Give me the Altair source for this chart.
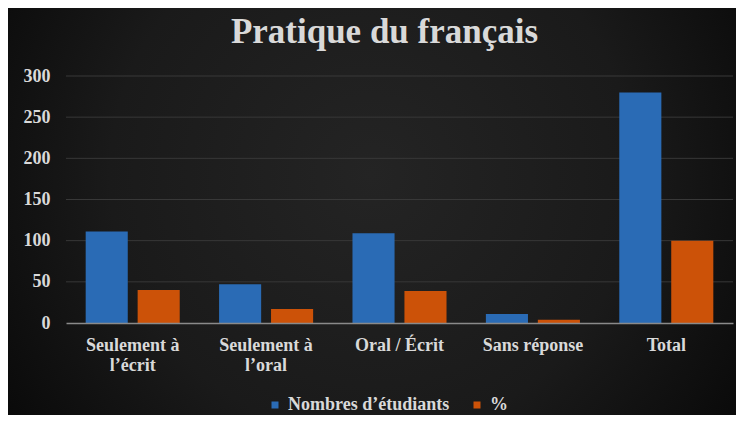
import altair as alt
import pandas as pd

categories = ["Seulement à l’écrit", "Seulement à l’oral", "Oral / Écrit", "Sans réponse", "Total"]
series = ["Nombres d’étudiants", "%"]
students = [111, 47, 109, 11, 280]
percent = [40, 17, 39, 4, 100]
colors = ["#2a6bb5", "#cc5208"]
y_ticks = [0, 50, 100, 150, 200, 250, 300]

rows = []
for c, s, p in zip(categories, students, percent):
    rows.append({"cat": c, "serie": series[0], "val": s})
    rows.append({"cat": c, "serie": series[1], "val": p})
df = pd.DataFrame(rows)
grid_df = pd.DataFrame({"val": [v for v in y_ticks if v > 0]})

W, H = 667, 247
PAD_L, PAD_T, PAD_R, PAD_B = 58, 68, 3, 92
FONT = "Liberation Serif"
TXT = "#d9d9d9"

y_axis = alt.Axis(values=y_ticks, labelFont=FONT, labelFontSize=18,
                  labelFontWeight="bold", labelColor=TXT, labelPadding=16,
                  ticks=False, domain=False, grid=False, zindex=1)
y_scale = alt.Scale(domain=[0, 300], nice=False)

bg = alt.Chart(pd.DataFrame({"a": [0]})).mark_rect(
    color=alt.Gradient(
        gradient="radial",
        stops=[alt.GradientStop(color="#242424", offset=0),
               alt.GradientStop(color="#1a1a1a", offset=0.5),
               alt.GradientStop(color="#020202", offset=1)],
        x1=0.5, y1=0.45, x2=0.5, y2=0.45, r1=0, r2=0.72,
    )
).encode(
    x=alt.value(-PAD_L), x2=alt.value(W + PAD_R),
    y=alt.value(-PAD_T), y2=alt.value(H + PAD_B),
)

grid = alt.Chart(grid_df).mark_rule(color="#383838", strokeWidth=1).encode(
    y=alt.Y("val:Q", title=None, axis=y_axis, scale=y_scale),
    x=alt.value(0), x2=alt.value(W),
)

bars = alt.Chart(df).mark_bar().encode(
    x=alt.X("cat:N", sort=categories, title=None,
            scale=alt.Scale(paddingInner=0.295, paddingOuter=0.1475),
            axis=alt.Axis(
                labelAngle=0, labelFont=FONT, labelFontSize=18, labelFontWeight="bold",
                labelColor=TXT, labelPadding=13, labelLineHeight=20, labelBaseline="top",
                ticks=False, domainColor="#8a8a8a", domainWidth=1.5, grid=False, zindex=1,
                labelExpr="indexof(datum.label, 'Seulement à ') == 0 ? ['Seulement à', substring(datum.label, 12)] : datum.label",
            )),
    xOffset=alt.XOffset("serie:N", sort=series,
                        scale=alt.Scale(paddingInner=0.19, paddingOuter=0)),
    y=alt.Y("val:Q", title=None, scale=y_scale, axis=y_axis),
    color=alt.Color("serie:N", sort=series,
                    scale=alt.Scale(domain=series, range=colors),
                    legend=alt.Legend(
                        title=None, orient="none", direction="horizontal",
                        legendX=200, legendY=320, symbolType="square", symbolSize=49,
                        symbolStrokeWidth=0, labelFont=FONT, labelFontSize=18,
                        labelFontWeight="bold", labelColor=TXT, columnPadding=18,
                        labelOffset=4, labelLimit=0)),
)

chart = alt.layer(bg, grid, bars).properties(
    width=W, height=H,
    autosize=alt.AutoSizeParams(type="none"),
    padding={"left": PAD_L, "top": PAD_T, "right": PAD_R, "bottom": PAD_B},
    background="#000000",
    title=alt.TitleParams(
        "Pratique du français", font=FONT, fontSize=35, fontWeight="bold",
        color=TXT, anchor="middle", baseline="alphabetic", offset=-70, dx=-15,
        limit=0,
    ),
).configure_view(stroke=None).configure_axis(
    labelFont=FONT
).configure_legend(
    labelFont=FONT
)

chart.save("out.html", embed_options={"renderer": "svg", "actions": False})
